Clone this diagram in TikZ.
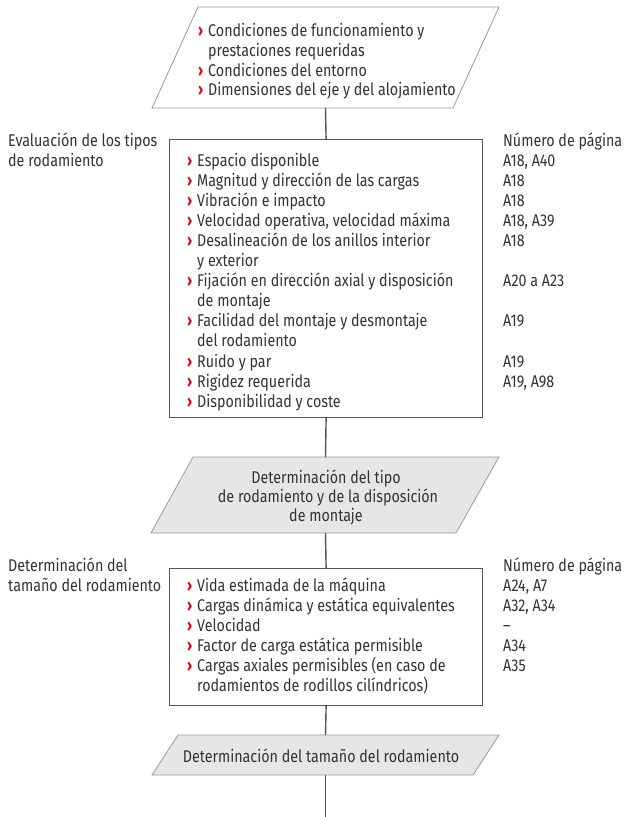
\documentclass[tikz,border=0pt]{standalone}
\usepackage{fontspec}
\setmainfont{Fira Sans}[FakeStretch=0.84]
\definecolor{txt}{HTML}{333333}
\definecolor{chev}{HTML}{E30613}
\definecolor{ln}{HTML}{555555}
\definecolor{pfill}{HTML}{E6E6E6}
\definecolor{pedge}{HTML}{9A9A9A}
\newcommand{\chv}{\makebox[10pt][l]{\textcolor{chev}{\bfseries ›}}}
\newcommand{\ind}{\hspace*{10pt}}
\begin{document}
\begin{tikzpicture}[x=1pt,y=-1pt,
  font=\fontsize{17}{20}\selectfont,
  every node/.style={text=txt, inner sep=0pt},
  conn/.style={draw=ln, line width=1.4pt},
  boxst/.style={draw=ln, line width=1.2pt, fill=white},
  para/.style={draw=pedge, line width=0.8pt},
  itm/.style={anchor=base west},
  ctr/.style={anchor=base}]
\useasboundingbox (0,0) rectangle (624,817);
\fill[white] (0,0) rectangle (624,817);

% parallelograms
\draw[para, fill=white] (198,7) -- (499,7) -- (453,108) -- (152,108) -- cycle;
\coordinate (p1s) at (325.5,108);
\draw[para, fill=pfill] (193,457) -- (499,457) -- (456,533) -- (151,533) -- cycle;
\coordinate (p2n) at (325.5,457);
\coordinate (p2s) at (325.5,533);
\draw[para, fill=pfill] (178,735) -- (499,735) -- (473,775) -- (152,775) -- cycle;
\coordinate (p3n) at (325.5,735);
\coordinate (p3s) at (325.5,775);
\coordinate (end) at (325.5,817);

% boxes
\node[boxst, anchor=north west, minimum width=313pt, minimum height=278pt] (box1) at (169,139) {};
\node[boxst, anchor=north west, minimum width=313pt, minimum height=137pt] (box2) at (169,568) {};

% connectors
\draw[conn] (p1s) -- (box1.north);
\draw[conn] (box1.south) -- (p2n);
\draw[conn] (p2s) -- (box2.north);
\draw[conn] (box2.south) -- (p3n);
\draw[conn] (p3s) -- (end);

% top parallelogram text
\foreach \k/\t in {0/{\chv Condiciones de funcionamiento y},
                   1/{\ind prestaciones requeridas},
                   2/{\chv Condiciones del entorno},
                   3/{\chv Dimensiones del eje y del alojamiento}}
  \node[itm] (pt\k) at (198,36.5+19.8*\k) {\t};

% box 1 side labels
\node[itm] (lab1a) at (8,146) {Evaluación de los tipos};
\node[itm] (lab1b) at (8,166) {de rodamiento};
\node[itm] (num1) at (503,146) {Número de página};

\foreach \k/\t in {0/{\chv Espacio disponible},
                   1/{\chv Magnitud y dirección de las cargas},
                   2/{\chv Vibración e impacto},
                   3/{\chv Velocidad operativa, velocidad máxima},
                   4/{\chv Desalineación de los anillos interior},
                   5/{\ind y exterior},
                   6/{\chv Fijación en dirección axial y disposición},
                   7/{\ind de montaje},
                   8/{\chv Facilidad del montaje y desmontaje},
                   9/{\ind del rodamiento},
                   10/{\chv Ruido y par},
                   11/{\chv Rigidez requerida},
                   12/{\chv Disponibilidad y coste}}
  \node[itm] (b1t\k) at (187,166+20.1*\k) {\t};

\foreach \k/\p in {0/{A18, A40}, 1/{A18}, 2/{A18}, 3/{A18, A39}, 4/{A18},
                   6/{A20 a A23}, 8/{A19}, 10/{A19}, 11/{A19, A98}}
  \node[itm] (b1p\k) at (503,166+20.1*\k) {\p};

% second parallelogram text
\node[ctr] (d1) at (326,483) {Determinación del tipo};
\node[ctr] (d2) at (328,502) {de rodamiento y de la disposición};
\node[ctr] (d3) at (326,521) {de montaje};

% box 2 side labels
\node[itm] (lab2a) at (8,571.5) {Determinación del};
\node[itm] (lab2b) at (8,591.5) {tamaño del rodamiento};
\node[itm] (num2) at (503,571.5) {Número de página};

\foreach \k/\t in {0/{\chv Vida estimada de la máquina},
                   1/{\chv Cargas dinámica y estática equivalentes},
                   2/{\chv Velocidad},
                   3/{\chv Factor de carga estática permisible},
                   4/{\chv Cargas axiales permisibles (en caso de},
                   5/{\ind rodamientos de rodillos cilíndricos)}}
  \node[itm] (b2t\k) at (187,591.5+20*\k) {\t};

\foreach \k/\p in {0/{A24, A7}, 1/{A32, A34}, 2/{–}, 3/{A34}, 4/{A35}}
  \node[itm] (b2p\k) at (503,591.5+20*\k) {\p};

% third parallelogram text
\node[ctr] (e1) at (321,762) {Determinación del tamaño del rodamiento};
\end{tikzpicture}
\end{document}
